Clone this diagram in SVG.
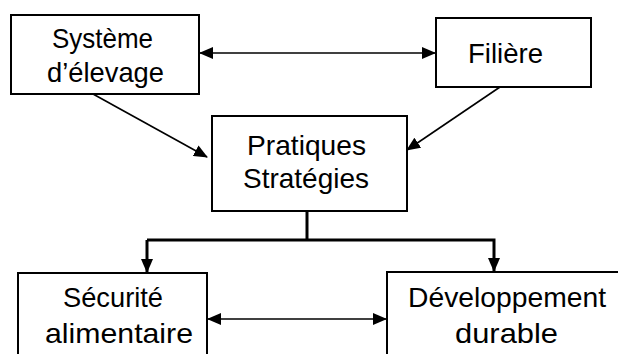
<svg xmlns="http://www.w3.org/2000/svg" width="618" height="354" viewBox="0 0 618 354">
<style>
.box{fill:#fff;stroke:#000;stroke-width:2}
.t{font-family:"Liberation Sans","Open Sans",sans-serif;font-size:28px;fill:#000;text-anchor:middle}
.c{fill:none;stroke:#000;stroke-width:1.6}
.k{fill:none;stroke:#000;stroke-width:3}
</style>
<defs>
<marker id="ah" markerUnits="userSpaceOnUse" markerWidth="14" markerHeight="12" viewBox="0 0 14 12" refX="13" refY="6" orient="auto-start-reverse">
<path d="M0,0 L14,6 L0,12 Z" fill="#000"/>
</marker>
</defs>
<g id="connectors">
<line class="c" x1="200" y1="53" x2="435" y2="53" marker-start="url(#ah)" marker-end="url(#ah)"/>
<line class="c" x1="93" y1="94" x2="207" y2="157" marker-end="url(#ah)"/>
<line class="c" x1="500" y1="87" x2="407" y2="150" marker-end="url(#ah)"/>
<polyline class="k" points="147,240 494,240 494,271" marker-end="url(#ah)"/>
<polyline class="k" points="307,211 307,240"/>
<line class="k" x1="147" y1="240" x2="147" y2="272" marker-end="url(#ah)"/>
<line class="c" x1="208" y1="319" x2="386" y2="319" marker-start="url(#ah)" marker-end="url(#ah)"/>
</g>
<g id="systeme">
<rect class="box" x="11" y="15" width="188" height="79"/>
<text class="t" x="102.5" y="48" textLength="101" lengthAdjust="spacingAndGlyphs">Système</text>
<text class="t" x="105.5" y="82" textLength="117" lengthAdjust="spacingAndGlyphs">d’élevage</text>
</g>
<g id="filiere">
<rect class="box" x="436" y="18" width="155" height="69"/>
<text class="t" x="505.5" y="63" textLength="75" lengthAdjust="spacingAndGlyphs">Filière</text>
</g>
<g id="pratiques">
<rect class="box" x="212" y="116" width="195" height="95"/>
<text class="t" x="306.5" y="155" textLength="119" lengthAdjust="spacingAndGlyphs">Pratiques</text>
<text class="t" x="306" y="188" textLength="126" lengthAdjust="spacingAndGlyphs">Stratégies</text>
</g>
<g id="securite">
<rect class="box" x="18" y="273" width="189" height="100"/>
<text class="t" x="113" y="307" textLength="100" lengthAdjust="spacingAndGlyphs">Sécurité</text>
<text class="t" x="119" y="343" textLength="148" lengthAdjust="spacingAndGlyphs">alimentaire</text>
</g>
<g id="developpement">
<rect class="box" x="387" y="272" width="250" height="100"/>
<text class="t" x="507" y="307" textLength="198" lengthAdjust="spacingAndGlyphs">Développement</text>
<text class="t" x="506.5" y="343" textLength="103" lengthAdjust="spacingAndGlyphs">durable</text>
</g>
</svg>
